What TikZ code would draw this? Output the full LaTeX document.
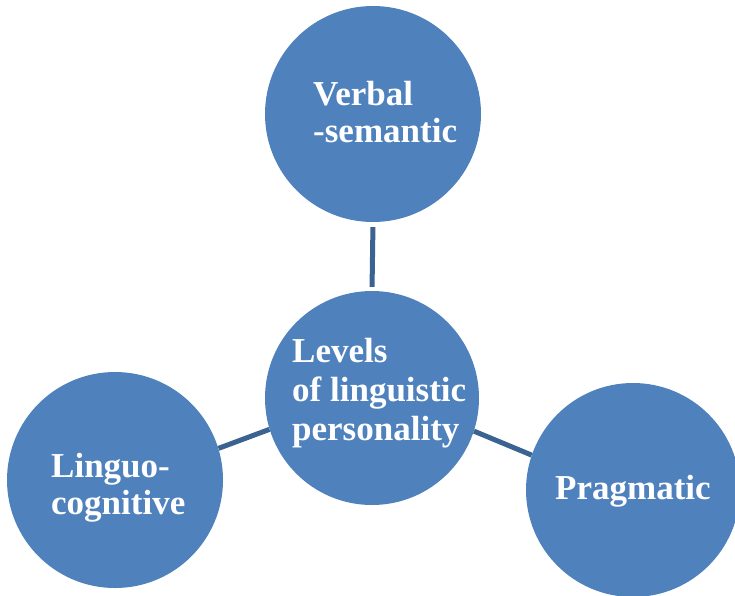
\documentclass[tikz,border=0pt]{standalone}
\usepackage{fontspec}
\setmainfont{Liberation Serif}
\definecolor{circfill}{HTML}{4F81BD}
\definecolor{linkcol}{HTML}{3B6391}
\begin{document}
\begin{tikzpicture}[x=1pt,y=-1pt,
  level/.style={circle,fill=circfill,minimum size=216pt,inner sep=0pt,draw=none},
  lbl/.style={anchor=base west,inner sep=0pt,text=white,font=\fontsize{35}{38}\selectfont\bfseries},
  link/.style={draw=linkcol,line width=5pt}]
\useasboundingbox (0,0) rectangle (735,595);
\clip (0,0) rectangle (735,595);
\node[level] (top) at (373,114) {};
\node[level,minimum size=214pt] (mid) at (372,398) {};
\node[level] (left) at (115,480) {};
\node[level,minimum size=214pt] (right) at (633,490) {};
\draw[link,shorten <=5pt,shorten >=4pt] (top.south) -- (mid.north);
\draw[link] (left.17.8) -- (mid.197.8);
\draw[link] (mid.-18.3) -- (right.161);
\node[lbl] (t1) at (313,105) {Verbal};
\node[lbl] (t2) at (313,142) {-semantic};
\node[lbl] (c1) at (292,362) {Levels};
\node[lbl] (c2) at (292,401) {of linguistic};
\node[lbl] (c3) at (292,440) {personality};
\node[lbl] (l1) at (51,477) {Linguo-};
\node[lbl] (l2) at (51,514) {cognitive};
\node[lbl] (r1) at (555,499) {Pragmatic};
\end{tikzpicture}
\end{document}
